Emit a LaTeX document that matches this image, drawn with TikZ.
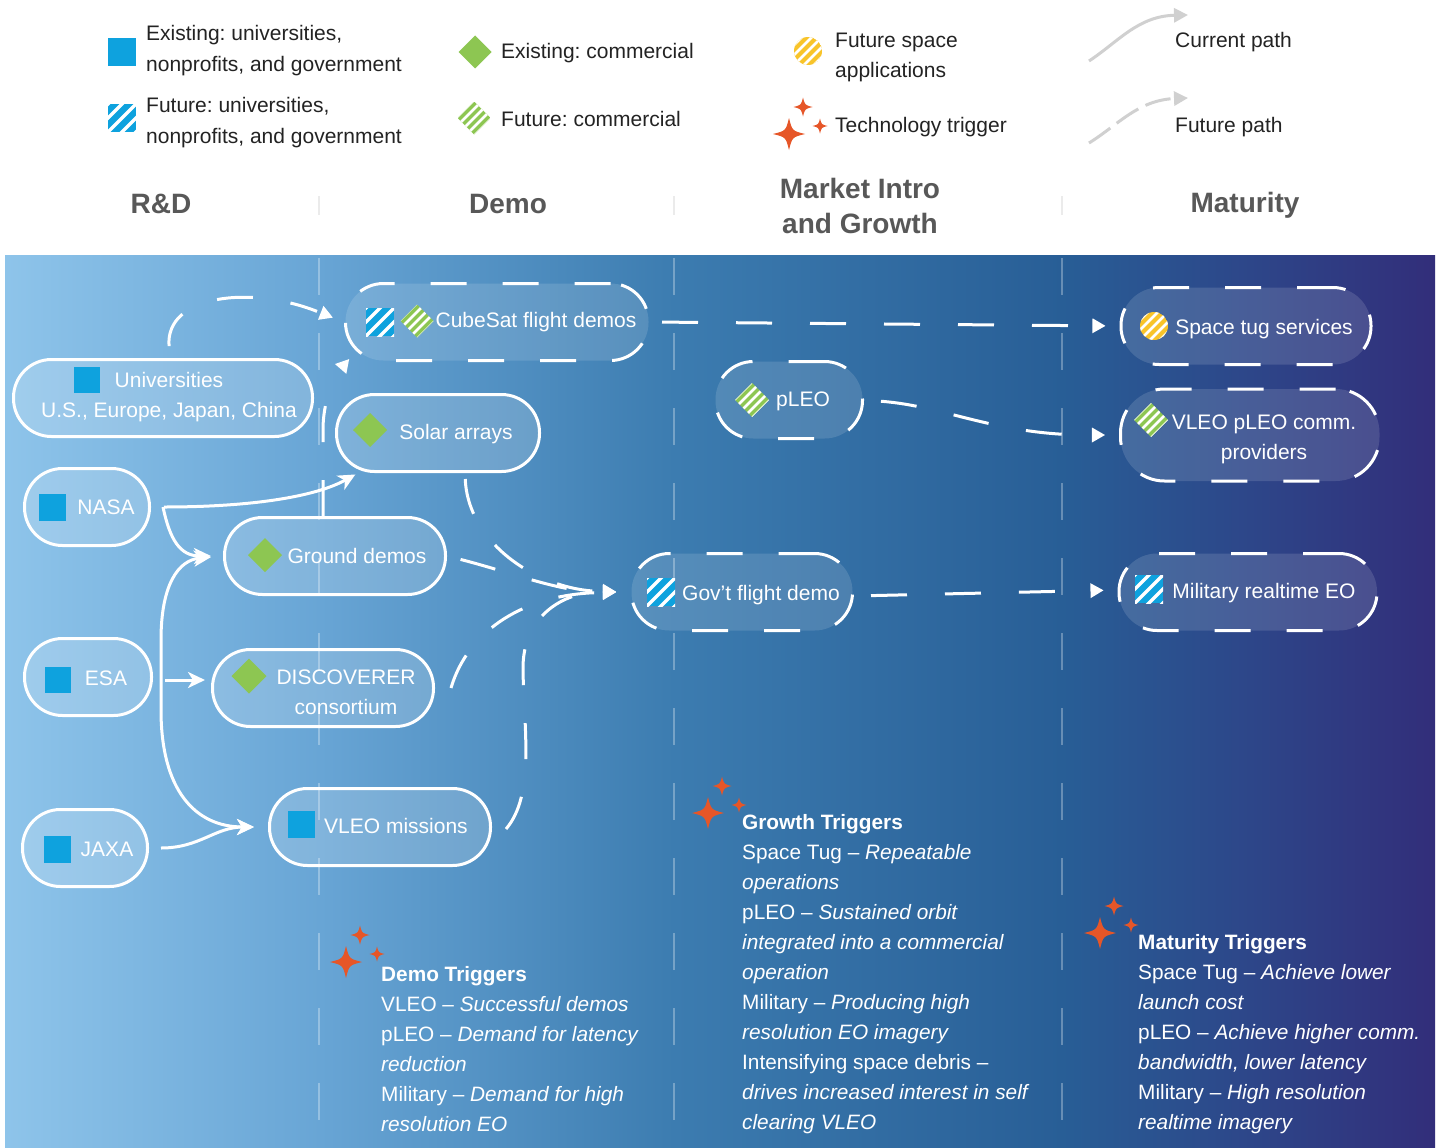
\documentclass[tikz,border=0pt]{standalone}
\usepackage{fontspec}
\setmainfont{Liberation Sans}
\usetikzlibrary{arrows.meta,calc,decorations.markings}

\definecolor{cblue}{RGB}{14,162,222}
\definecolor{cgreen}{RGB}{141,198,82}
\definecolor{cyellow}{RGB}{248,196,42}
\definecolor{corange}{RGB}{230,86,40}
\definecolor{hdrgray}{RGB}{88,88,88}
\definecolor{legtext}{RGB}{35,35,35}
\definecolor{leggray}{RGB}{208,208,208}
\definecolor{bgA}{RGB}{142,196,234}
\definecolor{bgB}{RGB}{104,165,213}
\definecolor{bgC}{RGB}{60,124,176}
\definecolor{bgD}{RGB}{40,94,150}
\definecolor{bgE}{RGB}{45,70,137}
\definecolor{bgF}{RGB}{50,46,122}

\newcommand\mystar[3]{\fill[corange] ({#1},{#2-#3}) .. controls ({#1+0.2*#3},{#2-0.2*#3}) .. ({#1+#3},{#2}) .. controls ({#1+0.2*#3},{#2+0.2*#3}) .. ({#1},{#2+#3}) .. controls ({#1-0.2*#3},{#2+0.2*#3}) .. ({#1-#3},{#2}) .. controls ({#1-0.2*#3},{#2-0.2*#3}) .. ({#1},{#2-#3}) -- cycle;}
\newcommand\mytrigger[2]{\mystar{#1}{#2}{16}\mystar{#1+14}{#2-27}{9.5}\mystar{#1+31}{#2-8}{7.5}}

\tikzset{
  exist/.style={draw=white, line width=3pt, fill=white, fill opacity=0.17, rounded corners=38pt, inner sep=0pt, minimum height=77pt},
  future/.style={exist, fill opacity=0.13, dash pattern=on 36pt off 36pt},
  ntext/.style={text=white, font=\fontsize{21}{30}\selectfont, inner sep=0pt, align=center},
  nbase/.style={ntext, anchor=base},
  legt/.style={text=legtext, font=\fontsize{21}{31}\selectfont, inner sep=0pt, align=left},
  hdr/.style={text=hdrgray, font=\bfseries\fontsize{28}{35}\selectfont, inner sep=0pt, align=center},
  trig/.style={text=white, font=\fontsize{20.8}{30}\selectfont, inner sep=0pt, align=left, anchor=north west},
  conn/.style={draw=white, line width=3pt, ->},
  dconn/.style={draw=white, line width=3pt, dash pattern=on 36pt off 38pt, shorten >=#1+17pt,
     postaction={decorate, decoration={markings, mark=at position 0.9999 with {\fill[white] (-#1,0pt) -- ({-#1-13pt},-7.5pt) -- ({-#1-13pt},7.5pt) -- cycle;}}}},
  dconn/.default=14pt,
  divline/.style={draw=white, draw opacity=0.3, line width=1.1pt, dash pattern=on 37pt off 38pt},
  hdiv/.style={draw=black!8, line width=1.2pt},
  pics/sqfull/.style={code={\fill[cblue] (-#1,-#1) rectangle (#1,#1);}},
  pics/sqhatch/.style={code={\begin{scope}\clip (-#1,-#1) rectangle (#1,#1);\fill[cblue] (-#1,-#1) rectangle (#1,#1);\foreach \k in {-3,...,3}{\draw[white,line width=3.4pt] ({\k*14-30},30) -- ({\k*14+30},-30);}\end{scope}}},
  pics/dmfull/.style={code={\fill[cgreen] (0,-#1) -- (#1,0) -- (0,#1) -- (-#1,0) -- cycle;}},
  pics/dmhatch/.style={code={\begin{scope}\clip (0,-#1) -- (#1,0) -- (0,#1) -- (-#1,0) -- cycle;\fill[cgreen] (-#1,-#1) rectangle (#1,#1);\foreach \k in {-4,...,4}{\draw[white,line width=2.8pt] ({\k*9-30},30) -- ({\k*9+30},-30);}\end{scope}}},
  pics/cihatch/.style={code={\begin{scope}\clip (0,0) circle (#1);\fill[cyellow] (0,0) circle (#1);\foreach \k in {-4,...,4}{\draw[white,line width=2.8pt] ({\k*10-30},30) -- ({\k*10+30},-30);}\end{scope}}},
}

\begin{document}
\frenchspacing
\begin{tikzpicture}[x=1pt,y=-1pt, >={Stealth[length=17pt,width=16pt,inset=5pt]}]
\useasboundingbox (0,0) rectangle (1440,1148);
\fill[white] (0,0) rectangle (1440,1148);

% background
\shade[left color=bgA,right color=bgB] (5,255) rectangle (320.5,1148);
\shade[left color=bgB,right color=bgC] (320,255) rectangle (674.5,1148);
\shade[left color=bgC,right color=bgD] (674,255) rectangle (1062.5,1148);
\shade[left color=bgD,right color=bgE] (1062,255) rectangle (1250.5,1148);
\shade[left color=bgE,right color=bgF] (1250,255) rectangle (1435,1148);

\foreach \x in {319,674,1062} {\draw[divline] (\x,258) -- (\x,1148); \draw[hdiv] (\x,196) -- (\x,215);}

% headers
\node[hdr, anchor=base] (h1) at (161,213) {R\&D};
\node[hdr, anchor=base] (h2) at (508,213) {Demo};
\node[hdr] (h3) at (860,206) {Market Intro\\and Growth};
\node[hdr, anchor=base] (h4) at (1245,212) {Maturity};

% legend
\pic at (122,52) {sqfull=14};
\pic at (122,118) {sqhatch=14};
\pic at (475,52) {dmfull=16.5};
\pic at (474,118) {dmhatch=16.5};
\pic at (808,51) {cihatch=14};
\mytrigger{789}{134}
\node[legt, anchor=west] (l1) at (146,50.5) {Existing: universities,\\nonprofits, and government};
\node[legt, anchor=west] (l2) at (146,122.5) {Future: universities,\\nonprofits, and government};
\node[legt, anchor=base west] (l3) at (501,58.5) {Existing: commercial};
\node[legt, anchor=base west] (l4) at (501,126.5) {Future: commercial};
\node[legt, anchor=west, font=\fontsize{21}{30}\selectfont] (l5) at (835,57) {Future space\\applications};
\node[legt, anchor=base west] (l6) at (835,132.5) {Technology trigger};
\node[legt, anchor=base west] (l7) at (1175,47.5) {Current path};
\node[legt, anchor=base west] (l8) at (1175,132.5) {Future path};
\coordinate (cpA) at (1089,61);
\coordinate (cpB) at (1188,15);
\coordinate (fpA) at (1089,143);
\coordinate (fpB) at (1188,98);
\draw[leggray, line width=3pt, -{Triangle[length=14pt,width=14pt]}] (cpA) .. controls (1118,42) and (1138,16) .. (cpB);
\draw[leggray, line width=3pt, dash pattern=on 26pt off 8pt, -{Triangle[length=14pt,width=14pt]}] (fpA) .. controls (1118,125) and (1138,100) .. (fpB);

% nodes
\node[exist, minimum width=299pt] (uni) at (163,398) {};
\node[exist, minimum width=125pt] (nasa) at (87,507) {};
\node[exist, minimum width=127pt] (esa) at (88,677) {};
\node[exist, minimum width=125pt] (jaxa) at (85,848) {};
\node[future, minimum width=303pt] (cube) at (497,322) {};
\node[exist, minimum width=203pt] (solar) at (438,433) {};
\node[exist, minimum width=221pt] (ground) at (335,556) {};
\node[exist, minimum width=221pt] (disc) at (323,688) {};
\node[exist, minimum width=221pt] (vleo) at (380,827) {};
\node[future, minimum width=221pt] (gov) at (742,592) {};
\node[future, minimum width=147pt] (pleo) at (789,400) {};
\node[future, minimum width=250pt] (tug) at (1246,326) {};
\node[future, minimum width=259pt, minimum height=92pt, rounded corners=44pt] (vcomm) at (1250,435) {};
\node[future, minimum width=258pt] (mil) at (1248,592) {};

% icons
\pic at (87,380) {sqfull=13};
\pic at (52,507) {sqfull=13.5};
\pic at (58,680) {sqfull=13};
\pic at (57,849) {sqfull=13.5};
\pic at (301,824) {sqfull=13.5};
\pic at (370,430) {dmfull=17};
\pic at (265,555) {dmfull=17};
\pic at (249,676) {dmfull=17.5};
\pic at (380,322) {sqhatch=14};
\pic at (417,321) {dmhatch=16.5};
\pic at (661,592) {sqhatch=14};
\pic at (752,400) {dmhatch=17};
\pic at (1154,326) {cihatch=14};
\pic at (1151,420) {dmhatch=17};
\pic at (1149,589) {sqhatch=14};

% node texts
\node[ntext] (unit) at (169,397) {Universities\\U.S., Europe, Japan, China};
\node[nbase] (nasat) at (106,514.5) {NASA};
\node[nbase] (esat) at (106,685.5) {ESA};
\node[nbase] (jaxat) at (107,856.5) {JAXA};
\node[nbase] (cubet) at (536,327) {CubeSat flight demos};
\node[nbase] (solart) at (456,439) {Solar arrays};
\node[nbase] (groundt) at (357,563) {Ground demos};
\node[ntext] (disct) at (346,692) {DISCOVERER\\consortium};
\node[nbase] (vleot) at (396,833) {VLEO missions};
\node[nbase] (govt) at (761,600) {Gov’t flight demo};
\node[nbase] (pleot) at (803,406) {pLEO};
\node[nbase] (tugt) at (1264,334) {Space tug services};
\node[ntext] (vcommt) at (1264,439) {VLEO pLEO comm.\\providers};
\node[nbase] (milt) at (1264,598) {Military realtime EO};

% solid connectors
\draw[conn, shorten <=13pt, shorten >=3pt] (nasa.east) .. controls (250,507) and (315,497) .. ($(solar.south)+(-80,0)$);
\draw[conn, shorten >=12pt] ($(nasa.east)+(12,0)$) .. controls (170,540) and (180,556) .. (ground.west);
\draw[conn, shorten >=6pt] ($(esa.east)+(12,3)$) -- ($(disc.west)+(0,-8)$);
\draw[conn, <->, shorten <=12pt, shorten >=14pt] (ground.west) .. controls (178,560) and (161,585) .. (161,640) -- (161,710) .. controls (161,790) and (195,827) .. (vleo.west);
\draw[conn, shorten <=12pt, shorten >=14pt] (jaxa.east) .. controls (200,848) and (215,827) .. (vleo.west);

% dashed connectors
\draw[dconn=12pt, shorten <=12pt] (uni.north) ++(7,0) .. controls (165,295) and (250,285) .. (cube.west);
\draw[dconn=12pt] ($(ground.north)+(-12,0)$) -- (323,430) .. controls (323,395) and (338,372) .. ($(cube.center)+(-140,28)$);
\draw[dconn, shorten <=6pt] ($(solar.south)+(27,0)$) .. controls (468,545) and (540,590) .. (gov.west);
\draw[dconn, shorten <=14pt] (ground.east) .. controls (510,572) and (560,592) .. (gov.west);
\draw[dconn] ($(disc.east)+(16,0)$) .. controls (468,630) and (525,594) .. (gov.west);
\draw[dconn] ($(vleo.east)+(14,2)$) .. controls (535,795) and (524,730) .. (523,670) .. controls (522,615) and (565,592) .. (gov.west);
\draw[dconn, shorten <=12pt] (cube.east) -- (tug.west);
\draw[dconn, shorten <=17pt] (pleo.east) .. controls (945,406) and (995,435) .. (vcomm.west);
\draw[dconn, shorten <=17pt] ($(gov.east)+(0,4)$) -- ($(mil.west)+(0,-2)$);

% triggers
\mytrigger{346}{962}
\mytrigger{708}{813}
\mytrigger{1100}{933}
\node[trig] (tdemo) at (381,966) {\textbf{Demo Triggers}\\VLEO – \textit{Successful demos}\\pLEO – \textit{Demand for latency}\\\textit{reduction}\\Military – \textit{Demand for high}\\\textit{resolution EO}};
\node[trig] (tgrowth) at (742,814) {\textbf{Growth Triggers}\\Space Tug – \textit{Repeatable}\\\textit{operations}\\pLEO – \textit{Sustained orbit}\\\textit{integrated into a commercial}\\\textit{operation}\\Military – \textit{Producing high}\\\textit{resolution EO imagery}\\Intensifying space debris –\\\textit{drives increased interest in self}\\\textit{clearing VLEO}};
\node[trig] (tmat) at (1138,934) {\textbf{Maturity Triggers}\\Space Tug – \textit{Achieve lower}\\\textit{launch cost}\\pLEO – \textit{Achieve higher comm.}\\\textit{bandwidth, lower latency}\\Military – \textit{High resolution}\\\textit{realtime imagery}};
\end{tikzpicture}
\end{document}
